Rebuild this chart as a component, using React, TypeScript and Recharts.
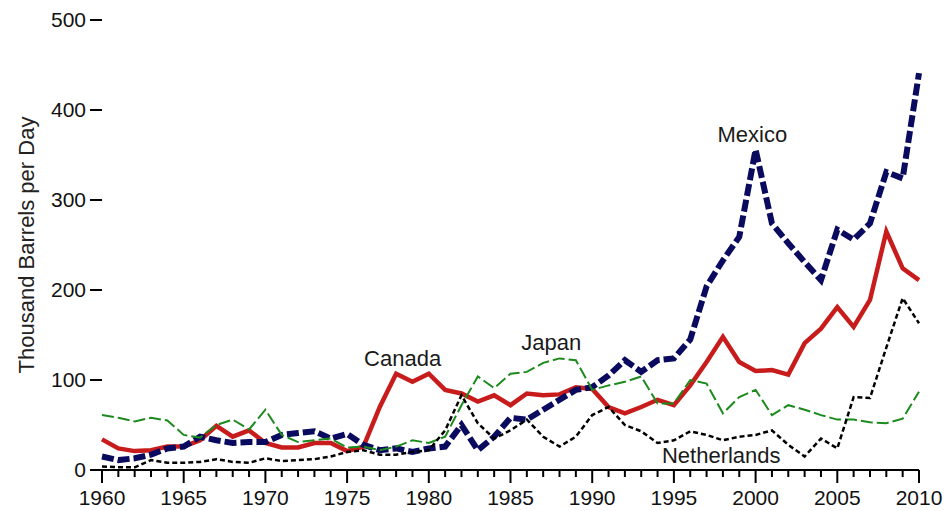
import { LineChart, Line, XAxis, YAxis, ReferenceDot } from "recharts";

const years = [
  1960, 1961, 1962, 1963, 1964, 1965, 1966, 1967, 1968, 1969,
  1970, 1971, 1972, 1973, 1974, 1975, 1976, 1977, 1978, 1979,
  1980, 1981, 1982, 1983, 1984, 1985, 1986, 1987, 1988, 1989,
  1990, 1991, 1992, 1993, 1994, 1995, 1996, 1997, 1998, 1999,
  2000, 2001, 2002, 2003, 2004, 2005, 2006, 2007, 2008, 2009,
  2010,
];

const canada = [
  34, 24, 21, 22, 26, 26, 33, 49, 37, 44,
  30, 25, 25, 30, 30, 21, 26, 70, 107, 98,
  107, 89, 85, 76, 83, 72, 85, 83, 84, 92,
  90, 70, 63, 70, 78, 72, 94, 120, 148, 120,
  110, 111, 106, 141, 157, 181, 159, 189, 265, 224,
  211,
];

const mexico = [
  15, 11, 13, 17, 24, 26, 37, 33, 30, 31,
  31, 39, 41, 43, 35, 40, 28, 22, 24, 20,
  24, 26, 50, 22, 37, 58, 56, 67, 78, 89,
  92, 105, 122, 109, 122, 124, 145, 204, 233, 259,
  356, 274, 252, 231, 211, 267, 256, 274, 331, 324,
  441,
];

const japan = [
  61, 58, 54, 58, 55, 39, 36, 50, 56, 45,
  67, 39, 31, 33, 35, 25, 26, 22, 26, 33,
  30, 37, 72, 104, 91, 107, 109, 119, 124, 122,
  89, 94, 98, 104, 74, 74, 100, 96, 63, 81,
  89, 61, 72, 67, 61, 56, 56, 53, 52, 57,
  87,
];

const netherlands = [
  4, 3, 3, 11, 8, 8, 9, 12, 9, 8,
  13, 10, 11, 12, 15, 20, 22, 17, 17, 20,
  22, 44, 83, 52, 35, 44, 56, 37, 26, 37,
  61, 70, 50, 43, 30, 33, 43, 39, 33, 37,
  39, 44, 28, 15, 35, 24, 81, 80, 136, 191,
  163,
];

const yTicks = [0, 100, 200, 300, 400, 500];

// series labels, placed in data units
const labelNames = ["Canada", "Japan", "Mexico", "Netherlands"];
const labelYears = [1978.4, 1987.5, 1999.8, 1997.9];
const labelValues = [124, 142, 373, 17];

const data = years.map((year, i) => ({
  year,
  canada: canada[i],
  mexico: mexico[i],
  japan: japan[i],
  netherlands: netherlands[i],
}));

function XTick(props: any) {
  const { x, y, payload } = props;
  const major = payload.value % 5 === 0;
  return (
    <g>
      <line x1={x} y1={y} x2={x} y2={y + (major ? 13 : 7)} stroke="#000" strokeWidth={2} />
      {major && (
        <text x={x} y={y + 35} textAnchor="middle" fontSize={21} fill="#111">
          {payload.value}
        </text>
      )}
    </g>
  );
}

export default function App() {
  return (
    <div
      style={{
        position: "absolute",
        left: 0,
        top: 0,
        width: 947,
        height: 511,
        background: "#fff",
        fontFamily: "'Liberation Sans', Arial, sans-serif",
      }}
    >
      <LineChart width={947} height={511} data={data} margin={{ top: 20, right: 28, left: 0, bottom: 0 }}>
        <XAxis
          dataKey="year"
          type="number"
          domain={[1960, 2010]}
          ticks={years}
          interval={0}
          tickSize={0}
          tickMargin={0}
          height={41}
          axisLine={{ stroke: "#000", strokeWidth: 2 }}
          tick={<XTick />}
        />
        <YAxis
          type="number"
          domain={[0, 500]}
          ticks={yTicks}
          width={102}
          axisLine={false}
          tickSize={12}
          tickMargin={4}
          tickLine={{ stroke: "#000", strokeWidth: 2 }}
          tick={{ fill: "#111", fontSize: 21 }}
          label={{
            value: "Thousand Barrels per Day",
            angle: -90,
            position: "insideLeft",
            offset: 26,
            style: { textAnchor: "middle" },
            fontSize: 22,
            fill: "#222",
          }}
        />
        <Line dataKey="canada" stroke="#c81b1b" strokeWidth={4.5} dot={false} isAnimationActive={false} />
        <Line dataKey="mexico" stroke="#0a0a5f" strokeWidth={6} strokeDasharray="12 4" dot={false} isAnimationActive={false} />
        <Line dataKey="japan" stroke="#1d8a1d" strokeWidth={2} strokeDasharray="12 4" dot={false} isAnimationActive={false} />
        <Line dataKey="netherlands" stroke="#000" strokeWidth={2.5} strokeDasharray="5 3" dot={false} isAnimationActive={false} />
        {labelNames.map((name, i) => (
          <ReferenceDot
            key={name}
            x={labelYears[i]}
            y={labelValues[i]}
            r={0}
            fill="none"
            stroke="none"
            label={{ value: name, position: "center", fontSize: 22, fill: "#1a1a1a" }}
          />
        ))}
      </LineChart>
    </div>
  );
}
